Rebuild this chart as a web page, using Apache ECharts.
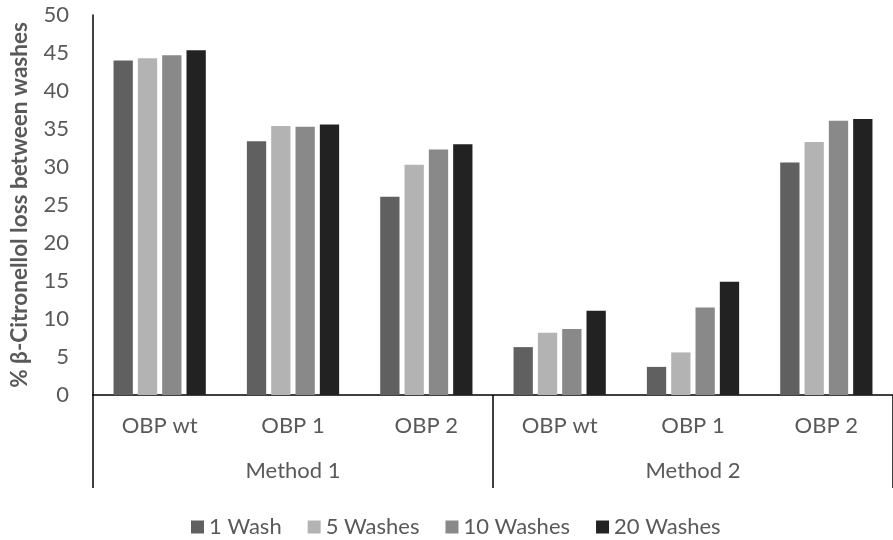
<!DOCTYPE html>
<html>
<head>
<meta charset="utf-8">
<script src="https://cdn.jsdelivr.net/npm/echarts@6/dist/echarts.min.js"></script>
<style>
  html, body { margin: 0; padding: 0; background: #ffffff; }
  #chart { width: 893px; height: 540px; }
</style>
</head>
<body>
<div id="chart"></div>
<script>
// Samples within each method, and the two methods that group them
const samples = ['OBP wt', 'OBP 1', 'OBP 2', 'OBP wt', 'OBP 1', 'OBP 2'];
const methods = ['Method 1', 'Method 2'];

// % β-citronellol loss between washes, per sample (Method 1 then Method 2)
const wash1 = [44.0, 33.4, 26.1, 6.3, 3.7, 30.6];
const wash5 = [44.3, 35.4, 30.3, 8.2, 5.6, 33.3];
const wash10 = [44.7, 35.3, 32.3, 8.7, 11.5, 36.1];
const wash20 = [45.35, 35.6, 33.0, 11.1, 14.9, 36.3];

const seriesNames = ['1 Wash', '5 Washes', '10 Washes', '20 Washes'];
const seriesColors = ['#606060', '#b3b3b3', '#898989', '#222222'];
const seriesValues = [wash1, wash5, wash10, wash20];

const FONT = 'Lato, "Liberation Sans", sans-serif';
const TEXT = '#595959';

const chart = echarts.init(document.getElementById('chart'), null, { renderer: 'canvas' });

chart.setOption({
  animation: false,
  backgroundColor: '#ffffff',
  textStyle: { fontFamily: FONT },
  grid: { left: 92, top: 15, width: 810, height: 380, containLabel: false },
  legend: {
    data: seriesNames,
    left: 186,
    top: 511,
    itemWidth: 13,
    itemHeight: 13,
    itemGap: 26,
    icon: 'rect',
    textStyle: { fontFamily: FONT, fontSize: 22, color: TEXT }
  },
  xAxis: [
    {
      type: 'category',
      data: samples,
      position: 'bottom',
      axisLine: { show: true, lineStyle: { color: '#000000', width: 1.5 } },
      axisTick: { show: false },
      axisLabel: { fontFamily: FONT, fontSize: 22, color: TEXT, margin: 20, interval: 0 },
      splitLine: { show: false }
    },
    {
      type: 'category',
      data: methods,
      position: 'bottom',
      axisLine: { show: false },
      axisTick: { show: true, length: 93, lineStyle: { color: '#000000', width: 1.5 } },
      axisLabel: { fontFamily: FONT, fontSize: 22, color: TEXT, margin: 65, interval: 0 },
      splitLine: { show: false }
    }
  ],
  yAxis: {
    type: 'value',
    min: 0,
    max: 50,
    interval: 5,
    name: '% β-Citronellol loss between washes',
    nameLocation: 'middle',
    nameRotate: 90,
    nameGap: 62,
    nameTextStyle: { fontFamily: FONT, fontSize: 22.5, fontWeight: 'bold', color: TEXT },
    axisLine: { show: true, lineStyle: { color: '#000000', width: 1.5 } },
    axisTick: { show: false },
    axisLabel: { fontFamily: FONT, fontSize: 22, color: TEXT, margin: 24 },
    splitLine: { show: false }
  },
  series: seriesNames.map((name, i) => ({
    name: name,
    type: 'bar',
    xAxisIndex: 0,
    data: seriesValues[i],
    barWidth: 19.3,
    barGap: '26%',
    itemStyle: { color: seriesColors[i] }
  }))
});
</script>
</body>
</html>
